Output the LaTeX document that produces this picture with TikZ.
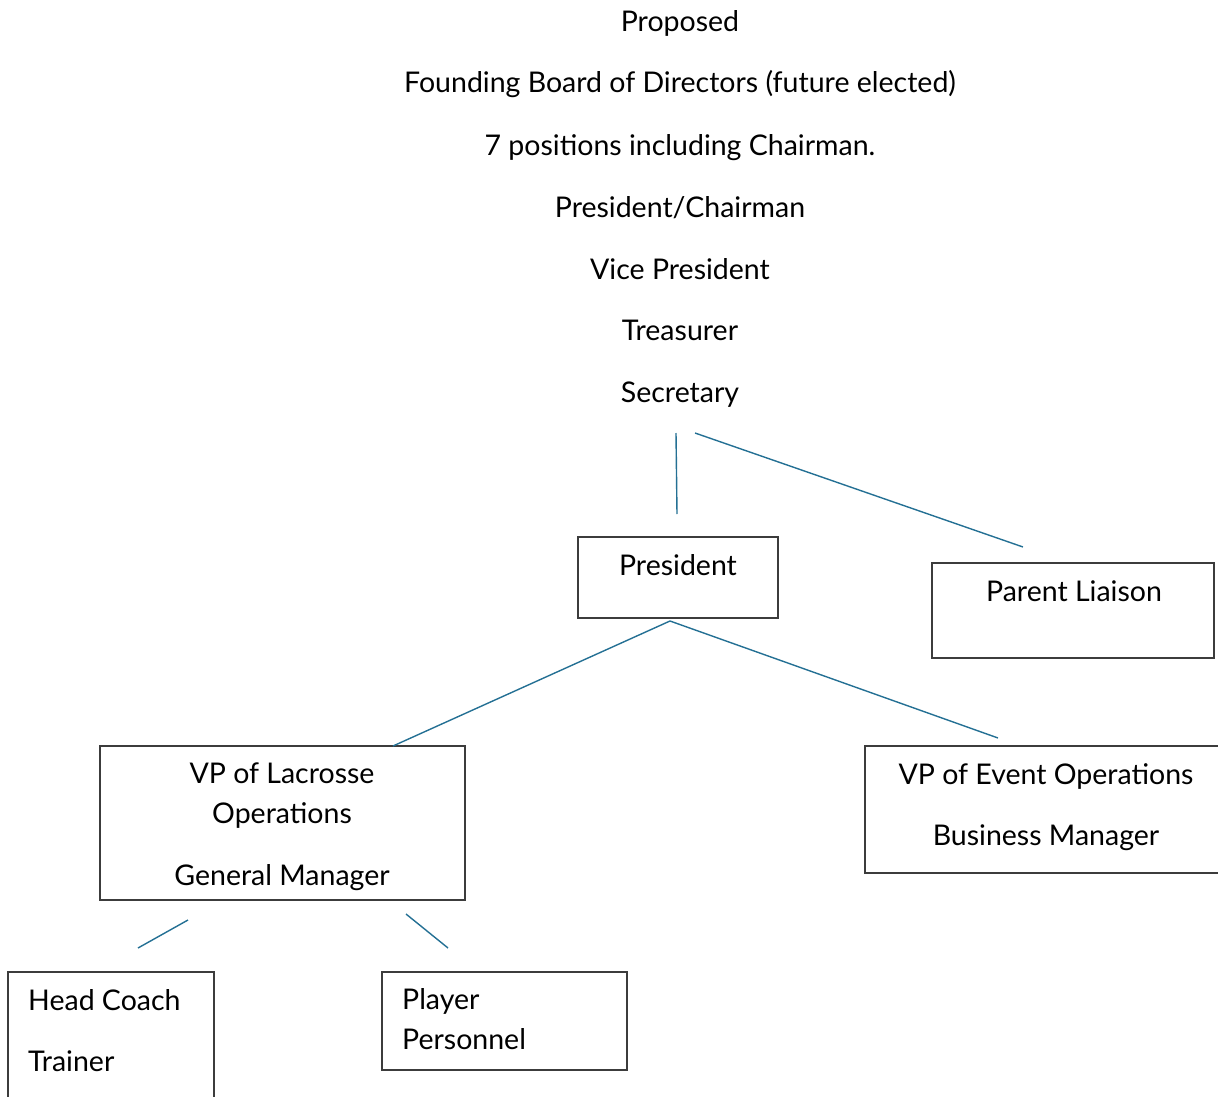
\documentclass[tikz,border=0pt]{standalone}
\usepackage{fontspec}
\setmainfont{Lato}
\definecolor{linkblue}{RGB}{36,112,148}
\definecolor{boxgray}{RGB}{60,60,60}
\begin{document}
\begin{tikzpicture}[x=1pt,y=-1pt,
  txt/.style={font=\fontsize{28.5}{34}\selectfont, inner sep=0pt, text=black},
  ctxt/.style={txt, anchor=base},
  ltxt/.style={txt, anchor=base west},
  box/.style={draw=boxgray, line width=1.3pt, rectangle, inner sep=0pt},
  link/.style={draw=linkblue, line width=1.4pt}]
\useasboundingbox (0,0) rectangle (1218,1097);
\clip (0,0) rectangle (1218,1097);
% title block
\node[ctxt] (t1) at (680,32) {Proposed};
\node[ctxt] (t2) at (680,93) {Founding Board of Directors (future elected)};
\node[ctxt] (t3) at (680,155) {7 positions including Chairman.};
\node[ctxt] (t4) at (680,217) {President/Chairman};
\node[ctxt] (t5) at (680,279) {Vice President};
\node[ctxt] (t6) at (680,340) {Treasurer};
\node[ctxt] (t7) at (680,402) {Secretary};
% boxes
\node[box, minimum width=200pt, minimum height=81pt] (pres) at (678,577.5) {};
\node[ctxt] (prest) at (678,575) {President};
\node[box, minimum width=282pt, minimum height=95pt] (parent) at (1073,610.5) {};
\node[ctxt] (parentt) at (1074,601) {Parent Liaison};
\node[box, minimum width=365pt, minimum height=154pt] (vplax) at (282.5,823) {};
\node[ctxt] (vplax1) at (282,783) {VP of Lacrosse};
\node[ctxt] (vplax2) at (282,823) {Operations};
\node[ctxt] (vplax3) at (282,885) {General Manager};
\node[box, minimum width=362pt, minimum height=127pt] (vpev) at (1046,809.5) {};
\node[ctxt] (vpev1) at (1046,784) {VP of Event Operations};
\node[ctxt] (vpev2) at (1046,845) {Business Manager};
\node[box, minimum width=206pt, minimum height=140pt] (coach) at (111,1042) {};
\node[ltxt] (coach1) at (28,1010) {Head Coach};
\node[ltxt] (coach2) at (28,1071) {Trainer};
\node[box, minimum width=245pt, minimum height=98pt] (player) at (504.5,1021) {};
\node[ltxt] (player1) at (402,1009) {Player};
\node[ltxt] (player2) at (402,1049) {Personnel};
% connector end points
\coordinate (a1) at (676,433); \coordinate (a2) at (677,514);
\coordinate (b1) at (695,433); \coordinate (b2) at (1023,547);
\coordinate (c0) at (670,621); \coordinate (c1) at (393,746); \coordinate (c2) at (998,738);
\coordinate (d1) at (188,920); \coordinate (d2) at (138,948);
\coordinate (e1) at (406,914); \coordinate (e2) at (448,948);
\draw[link] (a1) -- (a2);
\draw[link] (b1) -- (b2);
\draw[link] (c0) -- (c1);
\draw[link] (c0) -- (c2);
\draw[link] (d1) -- (d2);
\draw[link] (e1) -- (e2);
\end{tikzpicture}
\end{document}
